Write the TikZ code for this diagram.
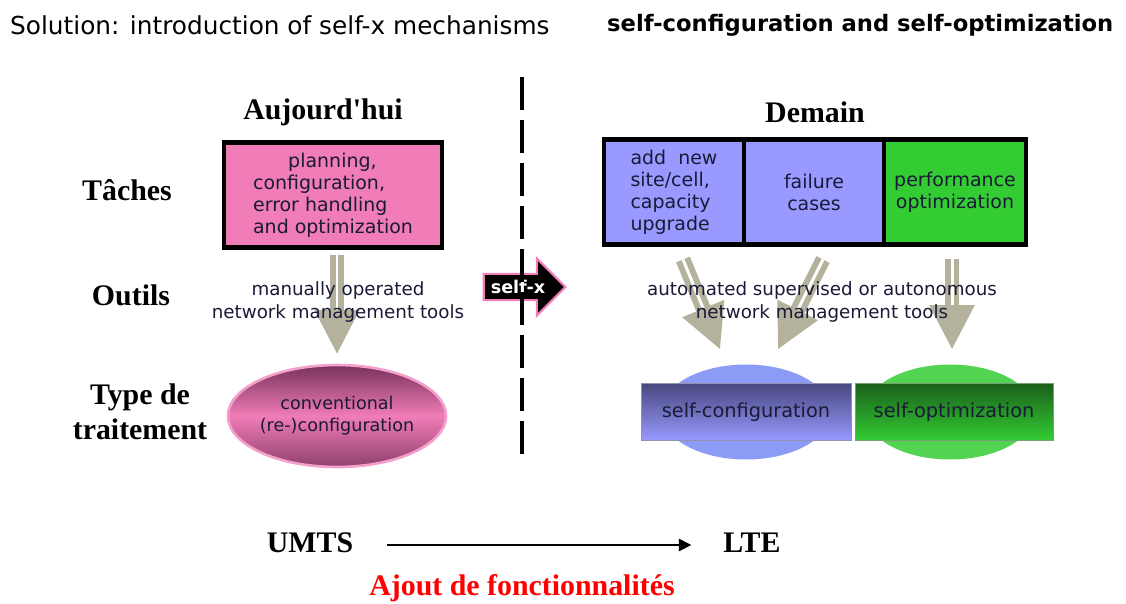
\documentclass[tikz,border=0pt]{standalone}
\usepackage{fontspec}
\setmainfont{Liberation Serif}
\setsansfont{DejaVu Sans}
\usetikzlibrary{positioning,shapes,arrows.meta,calc}
\usepackage{xcolor}
\definecolor{taskpink}{RGB}{240,124,184}
\definecolor{pinkdark}{RGB}{120,50,90}
\definecolor{pinkedge}{RGB}{244,160,204}
\definecolor{taskblue}{RGB}{153,153,255}
\definecolor{bluedark}{RGB}{72,72,128}
\definecolor{blueedge}{RGB}{140,155,245}
\definecolor{taskgreen}{RGB}{51,204,51}
\definecolor{greendark}{RGB}{26,96,26}
\definecolor{toolgray}{RGB}{180,178,156}
\definecolor{inkblue}{RGB}{26,26,56}

\begin{document}
\begin{tikzpicture}[x=0.02cm,y=-0.02cm,
            title/.style={font=\sffamily\fontsize{14.1}{16}\selectfont,anchor=west},
            lbl/.style={font=\bfseries\fontsize{17}{20}\selectfont,align=center},
            task/.style={rectangle,draw=black,line width=2.8pt,inner sep=0pt,outer sep=0pt,
                         minimum height=2.1cm,font=\sffamily\fontsize{10.8}{12.5}\selectfont,text=inkblue},
            tools/.style={font=\sffamily\fontsize{10.4}{12.8}\selectfont,align=center,text=inkblue},
            proc/.style={rectangle,minimum height=1.14cm,inner sep=0pt,font=\sffamily\fontsize{11}{13}\selectfont,text=inkblue},
            blob/.style={ellipse,minimum width=3.4cm,minimum height=1.9cm,inner sep=0pt},
            toolarrow/.style={draw=toolgray,line width=3.4pt,double=white,double distance=1.7pt,
                              -{Triangle[width=25pt,length=25pt]}},
            evoarrow/.style={line width=0.9pt,-{Triangle[width=7pt,length=7pt]}}]

    \useasboundingbox (0,0) rectangle (1126,603);

    % titles
    \node[title] (soltitle) at (4,25) {Solution: introduction of self-x mechanisms};
    \node[title,font=\sffamily\bfseries\fontsize{12.9}{16}\selectfont] (selftitle) at (601,25) {self-configuration and self-optimization};

    % self-x arrow
    \node[single arrow,fill=black,draw=taskpink,line width=1.2pt,single arrow head extend=0.3cm,
          single arrow tip angle=90,inner xsep=0.12cm,inner ysep=0.1cm,minimum width=1.14cm,
          text=white,font=\sffamily\bfseries\fontsize{10}{12}\selectfont] (selfx) at (518,287) {self-x};

    % separation today / tomorrow
    \coordinate (septop) at (522,77);
    \coordinate (sepbot) at (522,456);
    \draw[line width=2pt,dash pattern=on 0.66cm off 0.2cm] (septop) -- (sepbot);

    % row and column headers
    \node[lbl] (today) at (323,112) {Aujourd\textquotesingle hui};
    \node[lbl] (tomorrow) at (815,112) {Demain};
    \node[lbl] (taches) at (127,190) {Tâches};
    \node[lbl] (outils) at (131,295) {Outils};
    \node[lbl] (typetr) at (140,412) {Type de\\traitement};

    % tasks
    \node[task,fill=taskpink,minimum width=4.36cm,align=left] (oldtask) at (333,195)
        {\hspace*{20pt}planning,\\configuration,\\error handling\\and optimization};
    \node[task,fill=taskblue,minimum width=2.8cm,align=left] (addcell) at (674,192)
        {add~~new\\site/cell,\\capacity\\upgrade};
    \node[task,fill=taskblue,minimum width=2.8cm,align=center] (failcell) at (814,192)
        {failure\\cases};
    \node[task,fill=taskgreen,minimum width=2.84cm,align=center] (perfcell) at (955,192)
        {performance\\optimization};

    % processing
    \node[blob,minimum width=3.74cm,minimum height=2.04cm,draw=pinkedge,line width=1.5pt,
          top color=pinkdark,bottom color=pinkdark!80!taskpink,middle color=taskpink,
          font=\sffamily\fontsize{10}{12.5}\selectfont,text=inkblue,align=center] (conv) at (337,416)
        {conventional\\(re-)configuration};
    \node[blob,fill=blueedge] (sconfell) at (746,412) {};
    \node[blob,fill=taskgreen!85!white] (soptell) at (950,412) {};
    \node[proc,minimum width=4.2cm,top color=bluedark,bottom color=taskblue,draw=bluedark!60] (sconf) at (746,412)
        {self-configuration};
    \node[proc,minimum width=3.96cm,top color=greendark,bottom color=taskgreen,draw=greendark!60] (sopt) at (954,412)
        {self-optimization};

    % tools arrows
    \draw[toolarrow] ($(oldtask.south)+(4,8)$) -- ($(conv.north)+(0,-10)$);
    \draw[toolarrow] ($(addcell.south)+(9,15)$) -- ($(sconf.north)+(-26,-34)$);
    \draw[toolarrow] ($(failcell.south)+(9,15)$) -- ($(sconf.north)+(32,-34)$);
    \draw[toolarrow] ($(perfcell.south)+(-3,15)$) -- ($(sopt.north)+(-2,-34)$);

    \node[tools] (manual) at (338,302) {manually operated\\network management tools};
    \node[tools] (auto) at (822,302) {automated supervised or autonomous\\network management tools};

    % evolution
    \node[lbl] (umts) at (310,543) {UMTS};
    \node[lbl] (lte) at (752,543) {LTE};
    \draw[evoarrow] ($(umts.east)+(28,2)$) -- ($(lte.west)+(-26,2)$);
    \node[lbl,text=red] (ajout) at (522,588) {Ajout de fonctionnalités};
\end{tikzpicture}
\end{document}
